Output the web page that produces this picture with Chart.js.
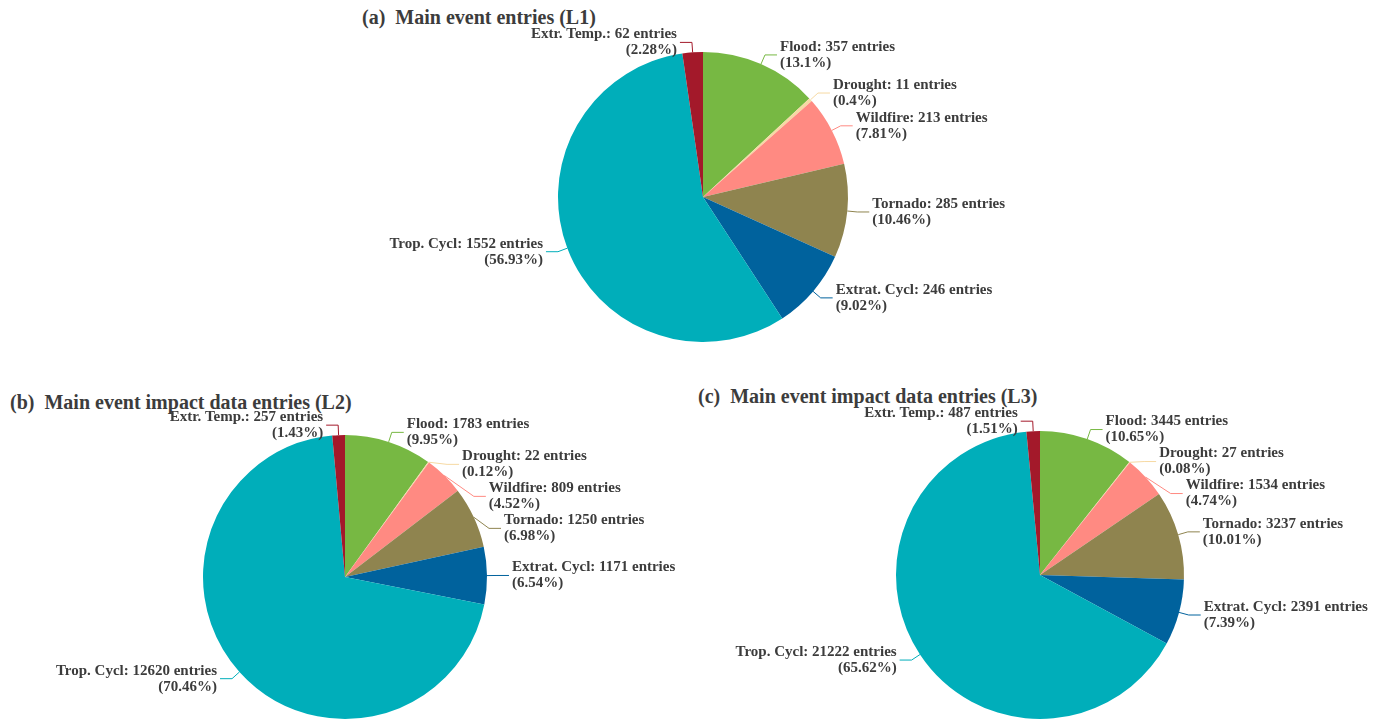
<!DOCTYPE html>
<html>
<head>
<meta charset="utf-8">
<script src="https://cdn.jsdelivr.net/npm/chart.js@4/dist/chart.umd.min.js"></script>
<style>
  html, body { margin: 0; padding: 0; background: #fff; }
  #page { position: relative; width: 1389px; height: 720px; overflow: hidden; }
  canvas { position: absolute; }
  .title {
    position: absolute; white-space: pre;
    font: bold 20px "Liberation Serif", "DejaVu Serif", serif;
    color: #3c3c3c; line-height: 20px;
  }
</style>
</head>
<body>
<div id="page">
  <div class="title" style="left:362px; top:7px;">(a)  Main event entries (L1)</div>
  <div class="title" style="left:10px; top:392px;">(b)  Main event impact data entries (L2)</div>
  <div class="title" style="left:698px; top:386px;">(c)  Main event impact data entries (L3)</div>
  <canvas id="pieL1" width="700" height="374" style="left:353px; top:10px;"></canvas>
  <canvas id="pieL2" width="690" height="325" style="left:0px; top:395px;"></canvas>
  <canvas id="pieL3" width="690" height="325" style="left:695px; top:395px;"></canvas>
</div>
<script>
// --- data ---
const categories = ['Flood', 'Drought', 'Wildfire', 'Tornado', 'Extrat. Cycl', 'Trop. Cycl', 'Extr. Temp.'];
const sliceColors = ['#77b843', '#f6d9a3', '#ff8a82', '#8f844f', '#00629d', '#00aeba', '#a3192a'];

const l1Entries = [357, 11, 213, 285, 246, 1552, 62];
const l1Percent = ['13.1', '0.4', '7.81', '10.46', '9.02', '56.93', '2.28'];

const l2Entries = [1783, 22, 809, 1250, 1171, 12620, 257];
const l2Percent = ['9.95', '0.12', '4.52', '6.98', '6.54', '70.46', '1.43'];

const l3Entries = [3445, 27, 1534, 3237, 2391, 21222, 487];
const l3Percent = ['10.65', '0.08', '4.74', '10.01', '7.39', '65.62', '1.51'];

// callout labels with elbow leader lines
const calloutPlugin = {
    id: 'callouts',
    afterDatasetsDraw(chart, args, opts) {
        const ctx = chart.ctx;
        const meta = chart.getDatasetMeta(0);
        const values = chart.data.datasets[0].data;
        const items = meta.data.map(function(arc, i) {
            const p = arc.getProps(['x', 'y', 'startAngle', 'endAngle', 'outerRadius'], true);
            const a = (p.startAngle + p.endAngle) / 2;
            const cos = Math.cos(a), sin = Math.sin(a);
            const R = p.outerRadius + opts.elbow;
            return {
                i: i, cx: p.x, cy: p.y, R: R, cos: cos,
                sx: p.x + p.outerRadius * cos, sy: p.y + p.outerRadius * sin,
                ex: p.x + R * cos, ey: p.y + R * sin,
                side: cos >= 0 ? 1 : -1
            };
        });

        // push overlapping labels down, keep them on the elbow circle
        [1, -1].forEach(function(side) {
            const list = items.filter(it => it.side === side).sort((p, q) => p.ey - q.ey);
            for (let k = 1; k < list.length; k++) {
                const prev = list[k - 1], cur = list[k];
                if (cur.ey - prev.ey < opts.gap) {
                    cur.ey = prev.ey + opts.gap;
                    const dy = cur.ey - cur.cy;
                    cur.ex = cur.cx + side * Math.sqrt(Math.max(cur.R * cur.R - dy * dy, 0));
                }
            }
        });

        ctx.save();
        ctx.font = opts.font;
        ctx.textBaseline = 'middle';
        items.forEach(function(it) {
            const color = chart.data.datasets[0].backgroundColor[it.i];
            const hx = it.ex + it.side * opts.arm;
            ctx.strokeStyle = color;
            ctx.lineWidth = 1;
            ctx.beginPath();
            ctx.moveTo(it.sx, it.sy);
            ctx.lineTo(it.ex, it.ey);
            ctx.lineTo(hx, it.ey);
            ctx.stroke();

            ctx.fillStyle = opts.color;
            ctx.textAlign = it.side > 0 ? 'left' : 'right';
            const tx = hx + it.side * 3;
            ctx.fillText(chart.data.labels[it.i] + ': ' + values[it.i] + ' entries', tx, it.ey - opts.lineHeight / 2);
            ctx.fillText('(' + opts.percents[it.i] + '%)', tx, it.ey + opts.lineHeight / 2);
        });
        ctx.restore();
    }
};

function makePie(id, entries, percents, padding) {
    const canvas = document.getElementById(id);
    return new Chart(canvas.getContext('2d'), {
        type: 'pie',
        data: {
            labels: categories,
            datasets: [{
                data: entries,
                backgroundColor: sliceColors,
                borderWidth: 0,
                hoverOffset: 0
            }]
        },
        options: {
            responsive: false,
            animation: false,
            layout: { padding: padding },
            plugins: {
                legend: { display: false },
                tooltip: { enabled: false },
                callouts: {
                    percents: percents,
                    elbow: 10,
                    arm: 12,
                    gap: 32,
                    lineHeight: 16,
                    font: 'bold 15px "Liberation Serif", "DejaVu Serif", serif',
                    color: '#3c3c3c'
                }
            }
        },
        plugins: [calloutPlugin]
    });
}

makePie('pieL1', l1Entries, l1Percent, { left: 205, right: 205, top: 42, bottom: 42 });
makePie('pieL2', l2Entries, l2Percent, { left: 203, right: 203, top: 40, bottom: 1 });
makePie('pieL3', l3Entries, l3Percent, { left: 201, right: 201, top: 36, bottom: 1 });
</script>
</body>
</html>
